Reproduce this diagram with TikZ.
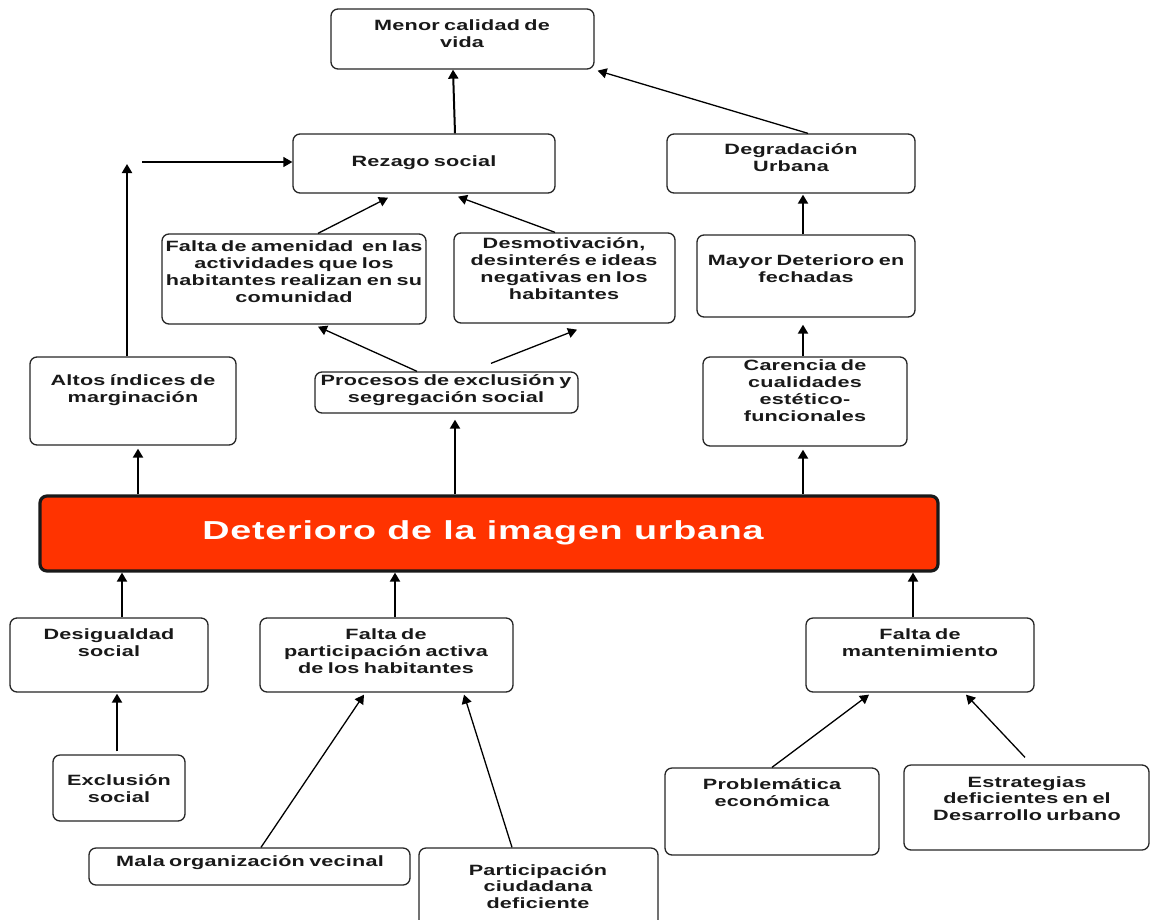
\documentclass[tikz,border=0pt]{standalone}
\usepackage{fontspec}
\newfontfamily\bxf{Liberation Sans}[FakeStretch=1.45,LetterSpace=1.5,WordSpace=0.7]
\newfontfamily\ttlf{Liberation Sans}[FakeStretch=1.45,LetterSpace=3]
\usetikzlibrary{arrows.meta}
\definecolor{mainred}{RGB}{255,51,0}
\tikzset{
  bx/.style={draw=black!85, line width=1.3pt, rounded corners=7pt, fill=white, inner sep=0pt},
  mainbx/.style={draw=black!90, line width=3.2pt, rounded corners=7pt, fill=mainred, inner sep=0pt},
  lb/.style={font={\bxf\bfseries\fontsize{14.9pt}{16.8pt}\selectfont}, align=center, inner sep=0pt, text=black!90},
  ttl/.style={font={\ttlf\bfseries\fontsize{26pt}{29pt}\selectfont}, text=white, inner sep=0pt},
  arrthick/.style={line width=2pt, -{Triangle[length=9pt,width=10pt]}},
  arrthin/.style={line width=1.3pt, -{Triangle[length=9pt,width=10pt]}}
}
\begin{document}
\begin{tikzpicture}[x=1pt,y=-1pt]
\useasboundingbox (0,0) rectangle (1151,919);
\clip (0,0) rectangle (1151,919);
% boxes
\node[bx, minimum width=263pt, minimum height=60pt] (menor) at (462.5,39) {};
\node[bx, minimum width=262pt, minimum height=59pt] (rezago) at (424,163.5) {};
\node[bx, minimum width=248pt, minimum height=59pt] (degrad) at (791,163.5) {};
\node[bx, minimum width=264pt, minimum height=90pt] (amen) at (294,279) {};
\node[bx, minimum width=221pt, minimum height=90pt] (desmot) at (564.5,278) {};
\node[bx, minimum width=218pt, minimum height=82pt] (mayor) at (806,276) {};
\node[bx, minimum width=206pt, minimum height=88pt] (altos) at (133,401) {};
\node[bx, minimum width=263pt, minimum height=41pt] (proc) at (446.5,392.5) {};
\node[bx, minimum width=204pt, minimum height=89pt] (caren) at (805,401.5) {};
\node[mainbx, minimum width=898pt, minimum height=75pt] (main) at (489,533.5) {};
\node[bx, minimum width=198pt, minimum height=74pt] (desig) at (109,655) {};
\node[bx, minimum width=253pt, minimum height=74pt] (fpart) at (386.5,655) {};
\node[bx, minimum width=228pt, minimum height=74pt] (fmant) at (920,655) {};
\node[bx, minimum width=132pt, minimum height=66pt] (excl) at (119,788) {};
\node[bx, minimum width=321pt, minimum height=37pt] (mala) at (249.5,866.5) {};
\node[bx, minimum width=239pt, minimum height=87pt] (pciud) at (538.5,891.5) {};
\node[bx, minimum width=214pt, minimum height=87pt] (probl) at (772,811.5) {};
\node[bx, minimum width=245pt, minimum height=85pt] (estr) at (1026.5,807.5) {};
% texts
\node[lb] (menorT) at (462,34) {Menor calidad de\\vida};
\node[lb] (rezagoT) at (424,163) {Rezago social};
\node[lb] (degradT) at (791,158) {Degradación\\Urbana};
\node[lb] (amenT) at (294,271.5) {Falta de amenidad \ en las\\actividades que los\\habitantes realizan en su\\comunidad};
\node[lb] (desmotT) at (564,268.5) {Desmotivación,\\desinterés e ideas\\negativas en los\\habitantes};
\node[lb] (mayorT) at (806,269) {Mayor Deterioro en\\fechadas};
\node[lb] (altosT) at (133,390) {Altos índices de\\marginación};
\node[lb] (procT) at (446,390) {Procesos de exclusión y\\segregación social};
\node[lb] (carenT) at (805,390.5) {Carencia de\\cualidades\\estético-\\funcionales};
\node[ttl] (mainT) at (483,533) {Deterioro de la imagen urbana};
\node[lb] (desigT) at (109,642.5) {Desigualdad\\social};
\node[lb] (fpartT) at (386,651) {Falta de\\participación activa\\de los habitantes};
\node[lb] (fmantT) at (920,642.5) {Falta de\\mantenimiento};
\node[lb] (exclT) at (119,788.5) {Exclusión\\social};
\node[lb] (malaT) at (250,863) {Mala organización vecinal};
\node[lb] (pciudT) at (538,886.5) {Participación\\ciudadana\\deficiente};
\node[lb] (problT) at (772,792.5) {Problemática\\económica};
\node[lb] (estrT) at (1027,798.5) {Estrategias\\deficientes en el\\Desarrollo urbano};
% free coordinates
\coordinate (altosTip) at (127,164);
\coordinate (rzStart) at (142,162);
% arrows
\draw[arrthick] ([xshift=31pt]rezago.north) -- ([xshift=-9.5pt]menor.south);
\draw[arrthin] ([xshift=17pt]degrad.north) -- ([xshift=3pt,yshift=-1pt]menor.south east);
\draw[arrthick] ([xshift=-6pt]altos.north) -- (altosTip);
\draw[arrthin] (rzStart) -- ([yshift=1.5pt]rezago.west);
\draw[arrthin] ([xshift=24pt]amen.north) -- ([xshift=-36pt,yshift=-4pt]rezago.south);
\draw[arrthin] ([xshift=-9.5pt]desmot.north) -- ([xshift=34pt,yshift=-3pt]rezago.south);
\draw[arrthin] ([xshift=-29.5pt]proc.north) -- ([xshift=24pt,yshift=-2pt]amen.south);
\draw[arrthin] ([xshift=44.5pt,yshift=8pt]proc.north) -- ([xshift=12.5pt,yshift=-6pt]desmot.south);
\draw[arrthick] ([xshift=-34pt]main.north) -- ([xshift=8.5pt,yshift=-6pt]proc.south);
\draw[arrthick] ([xshift=-351pt]main.north) -- ([xshift=5pt,yshift=-3pt]altos.south);
\draw[arrthick] ([xshift=314pt]main.north) -- ([xshift=-2pt,yshift=-3pt]caren.south);
\draw[arrthick] ([xshift=-2pt]caren.north) -- ([xshift=-3pt,yshift=-7pt]mayor.south);
\draw[arrthick] ([xshift=-3pt]mayor.north) -- ([xshift=12pt,yshift=-1pt]degrad.south);
\draw[arrthick] ([xshift=13pt]desig.north) -- ([xshift=-367pt]main.south);
\draw[arrthick] ([xshift=8.5pt]fpart.north) -- ([xshift=-94pt]main.south);
\draw[arrthick] ([xshift=-7pt]fmant.north) -- ([xshift=424pt]main.south);
\draw[arrthick] ([xshift=-2pt,yshift=3pt]excl.north) -- ([xshift=8pt,yshift=-1pt]desig.south);
\draw[arrthin] ([xshift=11.5pt]mala.north) -- ([xshift=-22.5pt,yshift=-2pt]fpart.south);
\draw[arrthin] ([xshift=-26.5pt]pciud.north) -- ([xshift=77.5pt,yshift=-2pt]fpart.south);
\draw[arrthin] (probl.north) -- ([xshift=-51pt,yshift=-2pt]fmant.south);
\draw[arrthin] ([xshift=-1.5pt,yshift=7pt]estr.north) -- ([xshift=46pt,yshift=-2pt]fmant.south);
\end{tikzpicture}
\end{document}
